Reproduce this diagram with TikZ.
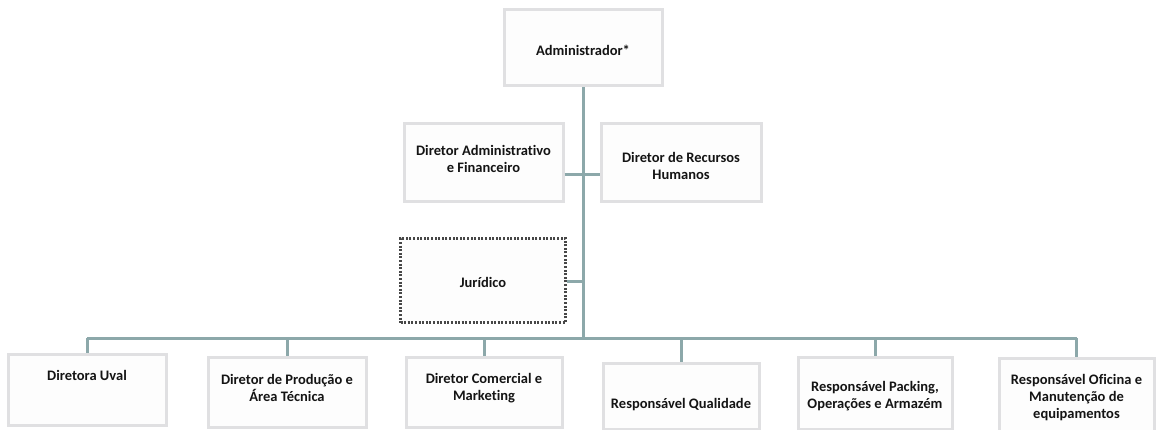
\documentclass[tikz,border=0pt]{standalone}
\usepackage{fontspec}
\setmainfont{Carlito}[Ligatures=NoCommon]
\definecolor{linkc}{RGB}{140,168,170}
\definecolor{txtc}{RGB}{20,20,20}
\definecolor{edgec}{RGB}{224,224,226}
\definecolor{boxfill}{RGB}{253,253,253}
\begin{document}
\begin{tikzpicture}[x=1pt,y=-1pt,
  orgbox/.style={draw=edgec, line width=3pt, fill=boxfill, inner sep=0pt},
  dotbox/.style={draw=black!72, line width=2.2pt, dash pattern=on 2pt off 1.6pt, fill=boxfill, inner sep=0pt},
  lbl/.style={font=\fontsize{14.5}{17}\selectfont\bfseries, text=txtc, align=center, inner sep=0pt},
  link/.style={draw=linkc, line width=3pt}]
\useasboundingbox[fill=white] (0,0) rectangle (1156,430);
% boxes
\node[orgbox, minimum width=158pt, minimum height=76pt] (adm) at (583,48) {};
\node[orgbox, minimum width=159pt, minimum height=78pt] (daf) at (483.5,163) {};
\node[orgbox, minimum width=160pt, minimum height=78pt] (drh) at (681,163) {};
\node[dotbox, minimum width=165pt, minimum height=84pt] (jur) at (483,280.5) {};
\node[orgbox, minimum width=158pt, minimum height=71pt] (b1) at (87,389.5) {};
\node[orgbox, minimum width=158pt, minimum height=70pt] (b2) at (287,392.5) {};
\node[orgbox, minimum width=156pt, minimum height=70pt] (b3) at (484,392.5) {};
\node[orgbox, minimum width=156pt, minimum height=66pt] (b4) at (681,396.5) {};
\node[orgbox, minimum width=154pt, minimum height=72pt] (b5) at (875,393.5) {};
\node[orgbox, minimum width=155pt, minimum height=77pt] (b6) at (1076.5,397) {};
% texts
\node[lbl] (tadm) at (583,50) {Administrador*};
\node[lbl] (tdaf) at (483.5,159) {Diretor Administrativo\\e Financeiro};
\node[lbl] (tdrh) at (681,166) {Diretor de Recursos\\Humanos};
\node[lbl] (tjur) at (483,282) {Jurídico};
\node[lbl] (t1) at (87,375) {Diretora Uval};
\node[lbl] (t2) at (287,388) {Diretor de Produção e\\Área Técnica};
\node[lbl] (t3) at (484,388) {Diretor Comercial e\\Marketing};
\node[lbl] (t4) at (681,405) {Responsável Qualidade};
\node[lbl] (t5) at (875,396) {Responsável Packing,\\Operações e Armazém};
\node[lbl] (t6) at (1076.5,398) {Responsável Oficina e\\Manutenção de\\equipamentos};
% connectors
\coordinate (bus) at (582.5,338);
\coordinate (mid1) at (582.5,175);
\coordinate (mid2) at (582.5,282);
\draw[link] (adm.south) -- (adm.south |- bus);
\draw[link] (daf.east |- mid1) -- (drh.west |- mid1);
\draw[link] (jur.east |- mid2) -- (mid2);
\draw[link] (b1.north |- bus) -- (b6.north |- bus);
\foreach \b in {b1,b2,b3,b4,b5,b6}{
  \draw[link] (\b.north |- bus) -- (\b.north);
}
\end{tikzpicture}
\end{document}
